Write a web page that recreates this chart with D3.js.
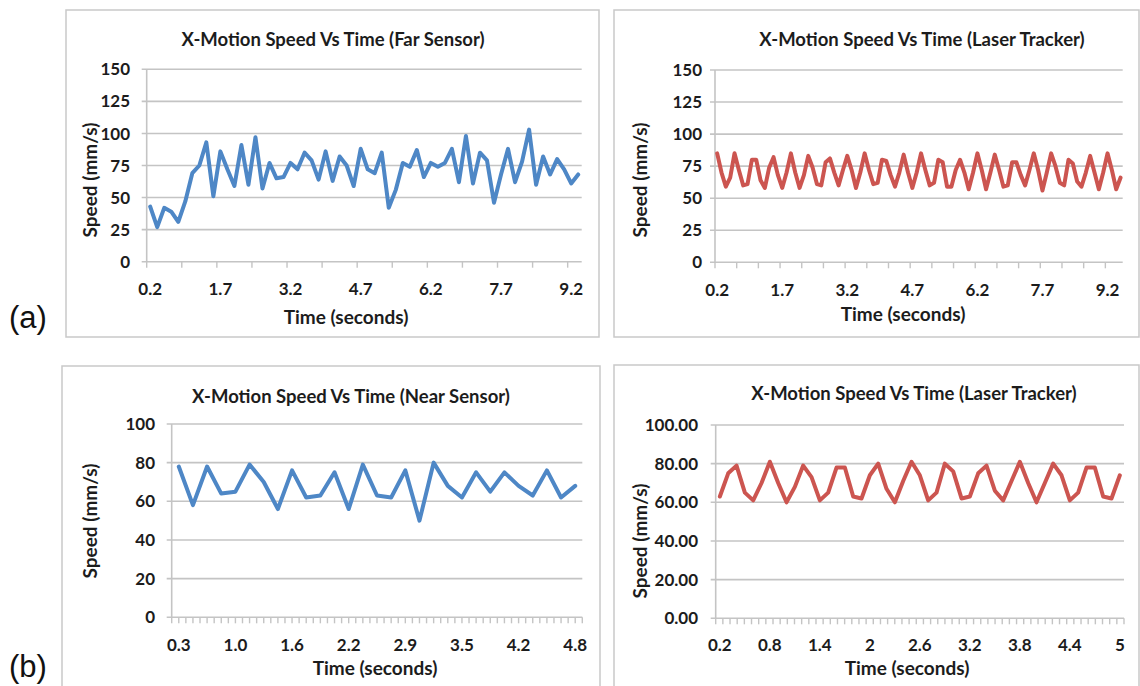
<!DOCTYPE html>
<html lang="en">
<head>
<meta charset="UTF-8">
<title>X-Motion Speed Vs Time</title>
<script src="https://cdn.jsdelivr.net/npm/d3@7"></script>
<style>
    body { margin: 0; background: #fff; }
    svg { display: block; font-family: Lato, "Open Sans", sans-serif; }
    .bold { font-weight: 700; fill: #1c1c1c; }
    .panel-tag { font-family: "Liberation Sans", Arial, sans-serif; fill: #111; }
</style>
</head>
<body>
<svg id="chart" width="1140" height="686"></svg>
<script>
// ---- data ----
const farSpeed = [43, 27, 42, 39, 31, 47, 69, 75, 93, 51, 86, 72, 59, 91, 60, 97, 57, 77, 65, 66,
    77, 72, 85, 79, 64, 86, 63, 82, 75, 59, 88, 72, 69, 85, 42, 56, 77, 74, 87, 66,
    77, 74, 77, 88, 62, 98, 61, 85, 79, 46, 68, 88, 62, 78, 103, 60, 82, 68, 80, 72, 61, 68];
const farLabels = ["0.2", "1.7", "3.2", "4.7", "6.2", "7.7", "9.2"];

const trackerASpeed = [85, 70, 59, 66, 85, 72, 60, 61, 80, 80, 64, 58, 74, 82, 68, 58, 70, 85, 70, 58,
    68, 83, 74, 61, 60, 78, 81, 70, 60, 72, 83, 72, 58, 70, 85, 72, 61, 62, 80, 79,
    68, 59, 70, 84, 70, 58, 70, 85, 72, 60, 62, 80, 78, 59, 59, 72, 80, 70, 57, 70,
    85, 72, 57, 70, 84, 72, 59, 60, 78, 78, 68, 60, 72, 85, 72, 56, 70, 85, 75, 62,
    60, 80, 77, 63, 59, 70, 83, 70, 57, 70, 85, 72, 57, 66];
const trackerALabels = ["0.2", "1.7", "3.2", "4.7", "6.2", "7.7", "9.2"];

const nearSpeed = [78, 58, 78, 64, 65, 79, 70, 56, 76, 62, 63, 75, 56, 79, 63, 62, 76, 50, 80, 68,
    62, 75, 65, 75, 68, 63, 76, 62, 68];
const nearLabels = ["0.3", "1.0", "1.6", "2.2", "2.9", "3.5", "4.2", "4.8"];

const trackerBSpeed = [63, 75, 79, 65, 61, 70, 81, 70, 60, 68, 79, 73, 61, 65, 78, 78, 63, 62, 74, 80,
    67, 60, 71, 81, 74, 61, 65, 80, 76, 62, 63, 75, 79, 66, 61, 71, 81, 70, 60, 70,
    80, 74, 61, 65, 78, 78, 63, 62, 74];
const trackerBLabels = ["0.2", "0.8", "1.4", "2", "2.6", "3.2", "3.8", "4.4", "5"];

const yTicksA = [0, 25, 50, 75, 100, 125, 150];
const yTicksB = [0, 20, 40, 60, 80, 100];

const BLUE = "#4e87c6";
const RED = "#cc5550";
const GRID = "#c4c4c4";

const svg = d3.select("#chart");

const panels = [
    { title: "X-Motion Speed Vs Time (Far Sensor)", values: farSpeed, labels: farLabels,
      color: BLUE, yTicks: yTicksA, fmt: d3.format("d"),
      box: [66, 10, 533, 327], plot: [146.7, 581.7, 261.7, 69.3],
      titleXY: [333, 46], yTitleXY: [90, 180], xTitleXY: [346, 324], tickLabelY: 295, yLabelRight: 130,
      labelEvery: 10, ticks: "every", tickEvery: 5 },
    { title: "X-Motion Speed Vs Time (Laser Tracker)", values: trackerASpeed, labels: trackerALabels,
      color: RED, yTicks: yTicksA, fmt: d3.format("d"),
      box: [614, 10, 525, 327], plot: [715, 1122.7, 262.3, 70],
      titleXY: [922, 46], yTitleXY: [640, 180], xTitleXY: [903, 321], tickLabelY: 296, yLabelRight: 702,
      labelEvery: 15, ticks: "every", tickEvery: 5 },
    { title: "X-Motion Speed Vs Time (Near Sensor)", values: nearSpeed, labels: nearLabels,
      color: BLUE, yTicks: yTicksB, fmt: d3.format("d"),
      box: [62, 366, 538, 340], plot: [171.7, 582.3, 617.3, 424],
      titleXY: [351, 403], yTitleXY: [90, 521], xTitleXY: [375, 675], tickLabelY: 651, yLabelRight: 155,
      labelEvery: 4, ticks: "half" },
    { title: "X-Motion Speed Vs Time (Laser Tracker)", values: trackerBSpeed, labels: trackerBLabels,
      color: RED, yTicks: yTicksB, fmt: d3.format(".2f"),
      box: [614, 365, 525, 340], plot: [715.7, 1124, 618.3, 425],
      titleXY: [914, 400], yTitleXY: [640, 541], xTitleXY: [907, 675], tickLabelY: 651, yLabelRight: 698,
      labelEvery: 6, ticks: "count", tickCount: 57 }
];

panels.forEach(drawPanel);

function drawPanel(p) {
    const g = svg.append("g");
    const [bx, by, bw, bh] = p.box;
    const [x0, x1, yBottom, yTop] = p.plot;

    g.append("rect")
        .attr("x", bx).attr("y", by).attr("width", bw).attr("height", bh)
        .attr("fill", "#fff").attr("stroke", "#c9c9c9").attr("stroke-width", 1.5);

    const x = d3.scaleBand().domain(d3.range(p.values.length)).range([x0, x1]);
    const bwid = x.bandwidth();
    const cx = i => x(i) + bwid / 2;
    const y = d3.scaleLinear().domain([0, d3.max(p.yTicks)]).range([yBottom, yTop]);

    // grid + y ticks
    g.selectAll(".grid").data(p.yTicks).enter().append("line")
        .attr("x1", x0 - 5).attr("x2", x1)
        .attr("y1", d => y(d)).attr("y2", d => y(d))
        .attr("stroke", GRID).attr("stroke-width", 1.6);

    g.append("line")
        .attr("x1", x0).attr("x2", x0).attr("y1", yBottom).attr("y2", yTop)
        .attr("stroke", GRID).attr("stroke-width", 1.6);

    g.selectAll(".ylab").data(p.yTicks).enter().append("text")
        .attr("class", "bold")
        .attr("x", p.yLabelRight).attr("y", d => y(d)).attr("dy", "0.36em")
        .attr("text-anchor", "end").attr("font-size", 17)
        .text(d => p.fmt(d));

    // x tick marks
    let tickXs;
    if (p.ticks === "every") {
        tickXs = d3.range(0, p.values.length, p.tickEvery).map(i => x(i));
    } else if (p.ticks === "half") {
        tickXs = d3.range(0, p.values.length * 2 + 1).map(k => x0 + k * bwid / 2);
    } else {
        const t = d3.scaleLinear().domain([0, p.tickCount]).range([x0, x1]);
        tickXs = d3.range(0, p.tickCount + 1).map(t);
    }
    g.selectAll(".xtick").data(tickXs).enter().append("line")
        .attr("x1", d => d).attr("x2", d => d)
        .attr("y1", yBottom).attr("y2", yBottom + 6)
        .attr("stroke", GRID).attr("stroke-width", 1.4);

    // x labels
    g.selectAll(".xlab").data(p.labels).enter().append("text")
        .attr("class", "bold")
        .attr("x", (d, k) => cx(k * p.labelEvery)).attr("y", p.tickLabelY)
        .attr("text-anchor", "middle").attr("font-size", 17)
        .text(d => d);

    // line
    const line = d3.line().x((d, i) => cx(i)).y(d => y(d));
    g.append("path")
        .datum(p.values)
        .attr("d", line)
        .attr("fill", "none")
        .attr("stroke", p.color)
        .attr("stroke-width", 4)
        .attr("stroke-linejoin", "round")
        .attr("stroke-linecap", "round");

    // titles
    g.append("text").attr("class", "bold")
        .attr("x", p.titleXY[0]).attr("y", p.titleXY[1])
        .attr("text-anchor", "middle").attr("font-size", 18.5)
        .text(p.title);

    g.append("text").attr("class", "bold")
        .attr("transform", `translate(${p.yTitleXY[0]},${p.yTitleXY[1]}) rotate(-90)`)
        .attr("dy", "0.35em")
        .attr("text-anchor", "middle").attr("font-size", 19)
        .text("Speed (mm/s)");

    g.append("text").attr("class", "bold")
        .attr("x", p.xTitleXY[0]).attr("y", p.xTitleXY[1])
        .attr("text-anchor", "middle").attr("font-size", 19)
        .text("Time (seconds)");
}

svg.append("text").attr("class", "panel-tag")
    .attr("x", 9).attr("y", 677).attr("font-size", 31).text("(b)");
svg.append("text").attr("class", "panel-tag")
    .attr("x", 9).attr("y", 328).attr("font-size", 31).text("(a)");
</script>
</body>
</html>
